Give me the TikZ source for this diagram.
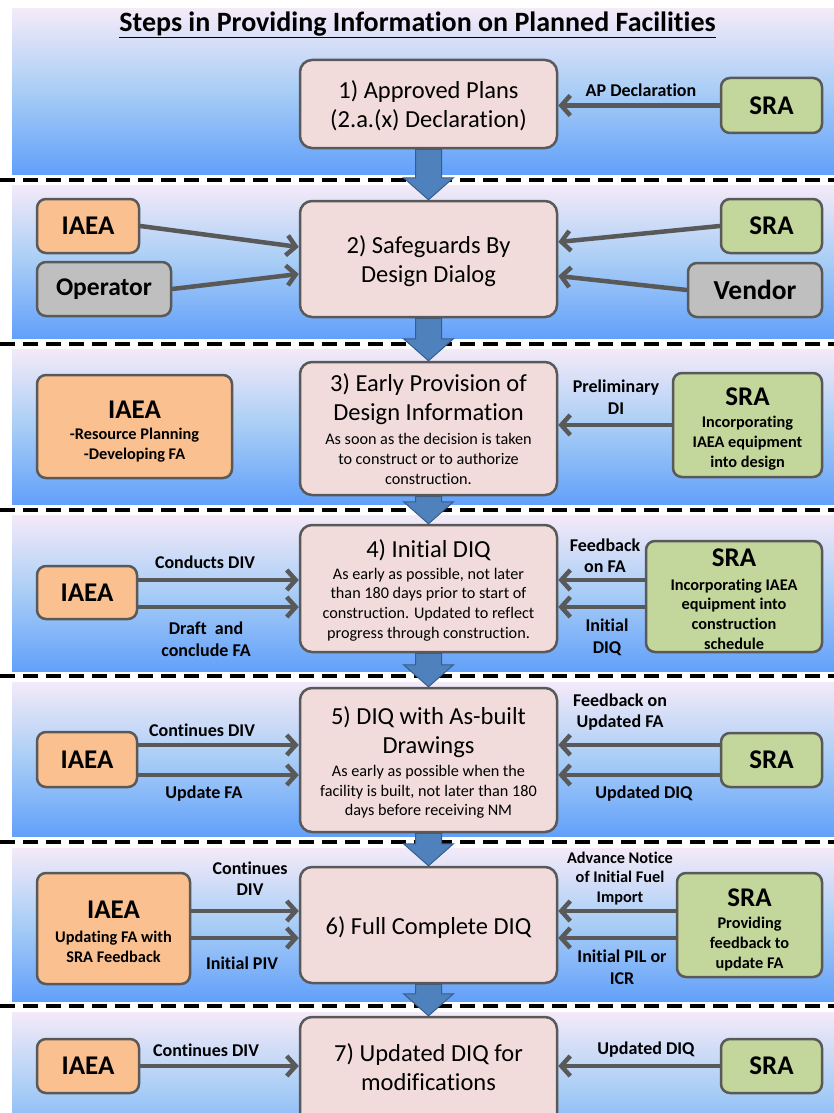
\documentclass[tikz,border=0pt]{standalone}
\usepackage{fontspec}
\setmainfont{Carlito}[Ligatures={NoCommon,NoRare}, Contextuals=NoAlternate]
\usetikzlibrary{arrows.meta,calc}
\pgfdeclarelayer{bands}
\pgfdeclarelayer{arrs}
\pgfsetlayers{bands,arrs,main}
\definecolor{bandtop}{RGB}{244,234,248}
\definecolor{bandmid}{RGB}{168,205,246}
\definecolor{bandbot}{RGB}{98,160,250}
\definecolor{centerfill}{RGB}{242,220,219}
\definecolor{iaeafill}{RGB}{250,192,144}
\definecolor{srafill}{RGB}{195,214,155}
\definecolor{grayfill}{RGB}{191,191,191}
\definecolor{borderc}{RGB}{89,89,89}
\definecolor{arrowgray}{RGB}{89,89,89}
\definecolor{bluearr}{RGB}{79,129,189}
\definecolor{blueedge}{RGB}{56,93,138}
\tikzset{
 box/.style={draw=borderc, line width=2.5pt, rounded corners=12pt, fill=centerfill, inner sep=0pt},
 actor/.style={draw=borderc, line width=2.5pt, rounded corners=9pt, inner sep=0pt, font=\fontsize{27}{30}\selectfont\bfseries},
 iaea/.style={actor, fill=iaeafill},
 sra/.style={actor, fill=srafill},
 grayb/.style={actor, fill=grayfill},
 conn/.style={draw=arrowgray, line width=4.5pt, line cap=round, -{Straight Barb[length=9pt,width=20pt]}},
 lbl/.style={font=\fontsize{18}{21.5}\selectfont\bfseries, align=center, inner sep=0pt},
 lblsm/.style={font=\fontsize{16.3}{19.5}\selectfont\bfseries, align=center, inner sep=0pt},
 bigtxt/.style={font=\fontsize{24.5}{29}\selectfont, align=center, inner sep=0pt},
 smalltxt/.style={font=\fontsize{16.2}{19.7}\selectfont, align=center, inner sep=0pt},
 acttxt/.style={font=\fontsize{27}{30}\selectfont\bfseries, inner sep=0pt},
 actsmall/.style={font=\fontsize{16.3}{19.7}\selectfont\bfseries, align=center, inner sep=0pt},
 bandfill/.style={top color=bandtop, bottom color=bandbot, middle color=bandmid},
 sepline/.style={line width=4.5pt, dash pattern=on 15pt off 8pt},
 blockarr/.style={fill=bluearr, draw=blueedge, line width=1pt, line join=miter},
}
\newcommand\blkarrow[2]{\draw[blockarr] ([xshift=-13pt]#1.south) -- ([xshift=-13pt,yshift=22pt]#2.north) -- ([xshift=-25pt,yshift=22pt]#2.north) -- (#2.north) -- ([xshift=25pt,yshift=22pt]#2.north) -- ([xshift=13pt,yshift=22pt]#2.north) -- ([xshift=13pt]#1.south) -- cycle;}
\begin{document}
\begin{tikzpicture}[x=1pt,y=-1pt]
\useasboundingbox (0,0) rectangle (834,1113);
\clip (0,0) rectangle (834,1113);

% title
\node[font=\fontsize{28}{30}\selectfont\bfseries, inner sep=0pt] (title) at (417.5,25) {\underline{Steps in Providing Information on Planned Facilities}};

% ---------- band 1
\node[box, minimum width=257pt, minimum height=88pt] (s1) at (428.5,104) {};
\node[bigtxt] (t1) at (428.5,105.5) {1) Approved Plans\\(2.a.(x) Declaration)};
\node[sra, minimum width=101pt, minimum height=55pt] (sra1) at (771.5,105.5) {SRA};
\draw[conn] (sra1.west) -- (sra1.west -| s1.east);
\node[lbl] (l1) at (641,90) {AP Declaration};

% ---------- band 2
\node[box, minimum width=257pt, minimum height=116pt] (s2) at (428.5,259) {};
\node[bigtxt] (t2) at (428.5,261) {2) Safeguards By\\Design Dialog};
\node[iaea, minimum width=102pt, minimum height=54pt] (iaea2) at (88,226) {IAEA};
\node[grayb, minimum width=134pt, minimum height=54pt, font=\fontsize{25.5}{28}\selectfont\bfseries] (op2) at (104,289) {Operator};
\node[sra, minimum width=101pt, minimum height=54pt] (sra2) at (771.5,226) {SRA};
\node[grayb, minimum width=134pt, minimum height=54pt, font=\fontsize{27.5}{30}\selectfont\bfseries] (ven2) at (755,290) {Vendor};
\draw[conn] (iaea2.east) -- ([yshift=12pt]s2.west);
\draw[conn] (op2.east) -- ([yshift=-15pt]s2.west);
\draw[conn] (sra2.west) -- ([yshift=17pt]s2.east);
\draw[conn] (ven2.west) -- ([yshift=-17pt]s2.east);

% ---------- band 3
\node[box, minimum width=257pt, minimum height=133pt] (s3) at (428.5,428.5) {};
\node[bigtxt] (t3a) at (428.5,399) {3) Early Provision of\\Design Information};
\node[smalltxt] (t3b) at (428.5,459) {As soon as the decision is taken\\to construct or to authorize\\construction.};
\node[iaea, minimum width=195pt, minimum height=103pt] (iaea3) at (134.5,426.5) {};
\node[acttxt] (iaea3t) at (134.5,410) {IAEA};
\node[actsmall] (iaea3s) at (134.5,445.5) {-Resource Planning\\-Developing FA};
\node[sra, minimum width=149pt, minimum height=104pt] (sra3) at (747.5,425) {};
\node[acttxt] (sra3t) at (747.5,397) {SRA};
\node[actsmall] (sra3s) at (747.5,443) {Incorporating\\IAEA equipment\\into design};
\draw[conn] (sra3.west) -- (sra3.west -| s3.east);
\node[lbl] (l3) at (616,397) {Preliminary\\DI};

% ---------- band 4
\node[box, minimum width=257pt, minimum height=127pt] (s4) at (428.5,588.5) {};
\node[bigtxt] (t4a) at (428.5,550) {4) Initial DIQ};
\node[smalltxt] (t4b) at (428.5,604.5) {As early as possible, not later\\than 180 days prior to start of\\construction. Updated to reflect\\progress through construction.};
\node[iaea, minimum width=100pt, minimum height=53pt] (iaea4) at (87,592.5) {IAEA};
\node[sra, minimum width=176pt, minimum height=111pt] (sra4) at (734,596.5) {};
\node[acttxt] (sra4t) at (734,558) {SRA};
\node[actsmall] (sra4s) at (734,614) {Incorporating IAEA\\equipment into\\construction\\schedule};
\coordinate (a4u) at ([yshift=12.5pt]iaea4.east);
\coordinate (a4d) at ([yshift=-14.5pt]iaea4.east);
\coordinate (b4u) at ([yshift=16.5pt]sra4.west);
\coordinate (b4d) at ([yshift=-10.5pt]sra4.west);
\draw[conn] (a4u) -- (a4u -| s4.west);
\draw[conn] (a4d) -- (a4d -| s4.west);
\draw[conn] (b4u) -- (b4u -| s4.east);
\draw[conn] (b4d) -- (b4d -| s4.east);
\node[lbl] (l4a) at (205,562) {Conducts DIV};
\node[lbl] (l4b) at (206,639) {Draft~ and\\conclude FA};
\node[lbl] (l4c) at (605,555.5) {Feedback\\on FA};
\node[lbl] (l4d) at (607,637.5) {Initial\\DIQ};

% ---------- band 5
\node[box, minimum width=257pt, minimum height=144pt] (s5) at (428.5,760) {};
\node[bigtxt] (t5a) at (428.5,732) {5) DIQ with As-built\\Drawings};
\node[smalltxt] (t5b) at (428.5,792) {As early as possible when the\\facility is built, not later than 180\\days before receiving NM};
\node[iaea, minimum width=100pt, minimum height=55pt] (iaea5) at (87,759.5) {IAEA};
\node[sra, minimum width=101pt, minimum height=54pt] (sra5) at (771.5,760) {SRA};
\coordinate (a5u) at ([yshift=14.5pt]iaea5.east);
\coordinate (a5d) at ([yshift=-15.5pt]iaea5.east);
\coordinate (b5u) at ([yshift=15pt]sra5.west);
\coordinate (b5d) at ([yshift=-15pt]sra5.west);
\draw[conn] (a5u) -- (a5u -| s5.west);
\draw[conn] (a5d) -- (a5d -| s5.west);
\draw[conn] (b5u) -- (b5u -| s5.east);
\draw[conn] (b5d) -- (b5d -| s5.east);
\node[lbl] (l5a) at (202,730) {Continues DIV};
\node[lbl] (l5b) at (204,794) {Update FA};
\node[lbl] (l5c) at (620,712) {Feedback on\\Updated FA};
\node[lbl] (l5d) at (644,794) {Updated DIQ};

% ---------- band 6
\node[box, minimum width=257pt, minimum height=116pt] (s6) at (428.5,925) {};
\node[bigtxt] (t6) at (428.5,928) {6) Full Complete DIQ};
\node[iaea, minimum width=153pt, minimum height=111pt] (iaea6) at (113.5,928.5) {};
\node[acttxt] (iaea6t) at (113.5,910) {IAEA};
\node[actsmall] (iaea6s) at (113.5,947) {Updating FA with\\SRA Feedback};
\node[sra, minimum width=145pt, minimum height=104pt] (sra6) at (749.5,925) {};
\node[acttxt] (sra6t) at (749.5,898) {SRA};
\node[actsmall] (sra6s) at (749.5,944) {Providing\\feedback to\\update FA};
\coordinate (a6u) at ([yshift=17.5pt]iaea6.east);
\coordinate (a6d) at ([yshift=-9.5pt]iaea6.east);
\coordinate (b6u) at ([yshift=14pt]sra6.west);
\coordinate (b6d) at ([yshift=-13pt]sra6.west);
\draw[conn] (a6u) -- (a6u -| s6.west);
\draw[conn] (a6d) -- (a6d -| s6.west);
\draw[conn] (b6u) -- (b6u -| s6.east);
\draw[conn] (b6d) -- (b6d -| s6.east);
\node[lbl] (l6a) at (250,878.5) {Continues\\DIV};
\node[lbl] (l6b) at (242,963) {Initial PIV};
\node[lblsm] (l6c) at (620,878.5) {Advance Notice\\of Initial Fuel\\Import};
\node[lbl] (l6d) at (622,967) {Initial PIL or\\ICR};

% ---------- band 7
\node[box, minimum width=257pt, minimum height=113pt] (s7) at (428.5,1073.5) {};
\node[bigtxt] (t7) at (428.5,1067.5) {7) Updated DIQ for\\modifications};
\node[iaea, minimum width=102pt, minimum height=54pt] (iaea7) at (88,1066) {IAEA};
\node[sra, minimum width=101pt, minimum height=54pt] (sra7) at (771.5,1066) {SRA};
\draw[conn] (iaea7.east) -- (iaea7.east -| s7.west);
\draw[conn] (sra7.west) -- (sra7.west -| s7.east);
\node[lbl] (l7a) at (206,1050) {Continues DIV};
\node[lbl] (l7b) at (646,1050) {Updated DIQ};

% ---------- bands
\begin{pgfonlayer}{bands}
\fill[white] (0,0) rectangle (834,1113);
\shade[bandfill] (12,9) rectangle (834,174);
\shade[bandfill] (12,185) rectangle (834,338);
\shade[bandfill] (12,349) rectangle (834,504);
\shade[bandfill] (12,515) rectangle (834,671);
\shade[bandfill] (12,682) rectangle (834,836);
\shade[bandfill] (12,848) rectangle (834,1001);
\shade[bandfill] (12,1012) rectangle (834,1170);
\foreach \yy in {180,344,510,676,842,1006}
  \draw[sepline] (0,\yy) -- (834,\yy);
\end{pgfonlayer}

% ---------- block arrows
\begin{pgfonlayer}{arrs}
\blkarrow{s1}{s2}
\blkarrow{s2}{s3}
\blkarrow{s3}{s4}
\blkarrow{s4}{s5}
\blkarrow{s5}{s6}
\blkarrow{s6}{s7}
\end{pgfonlayer}
\end{tikzpicture}
\end{document}
